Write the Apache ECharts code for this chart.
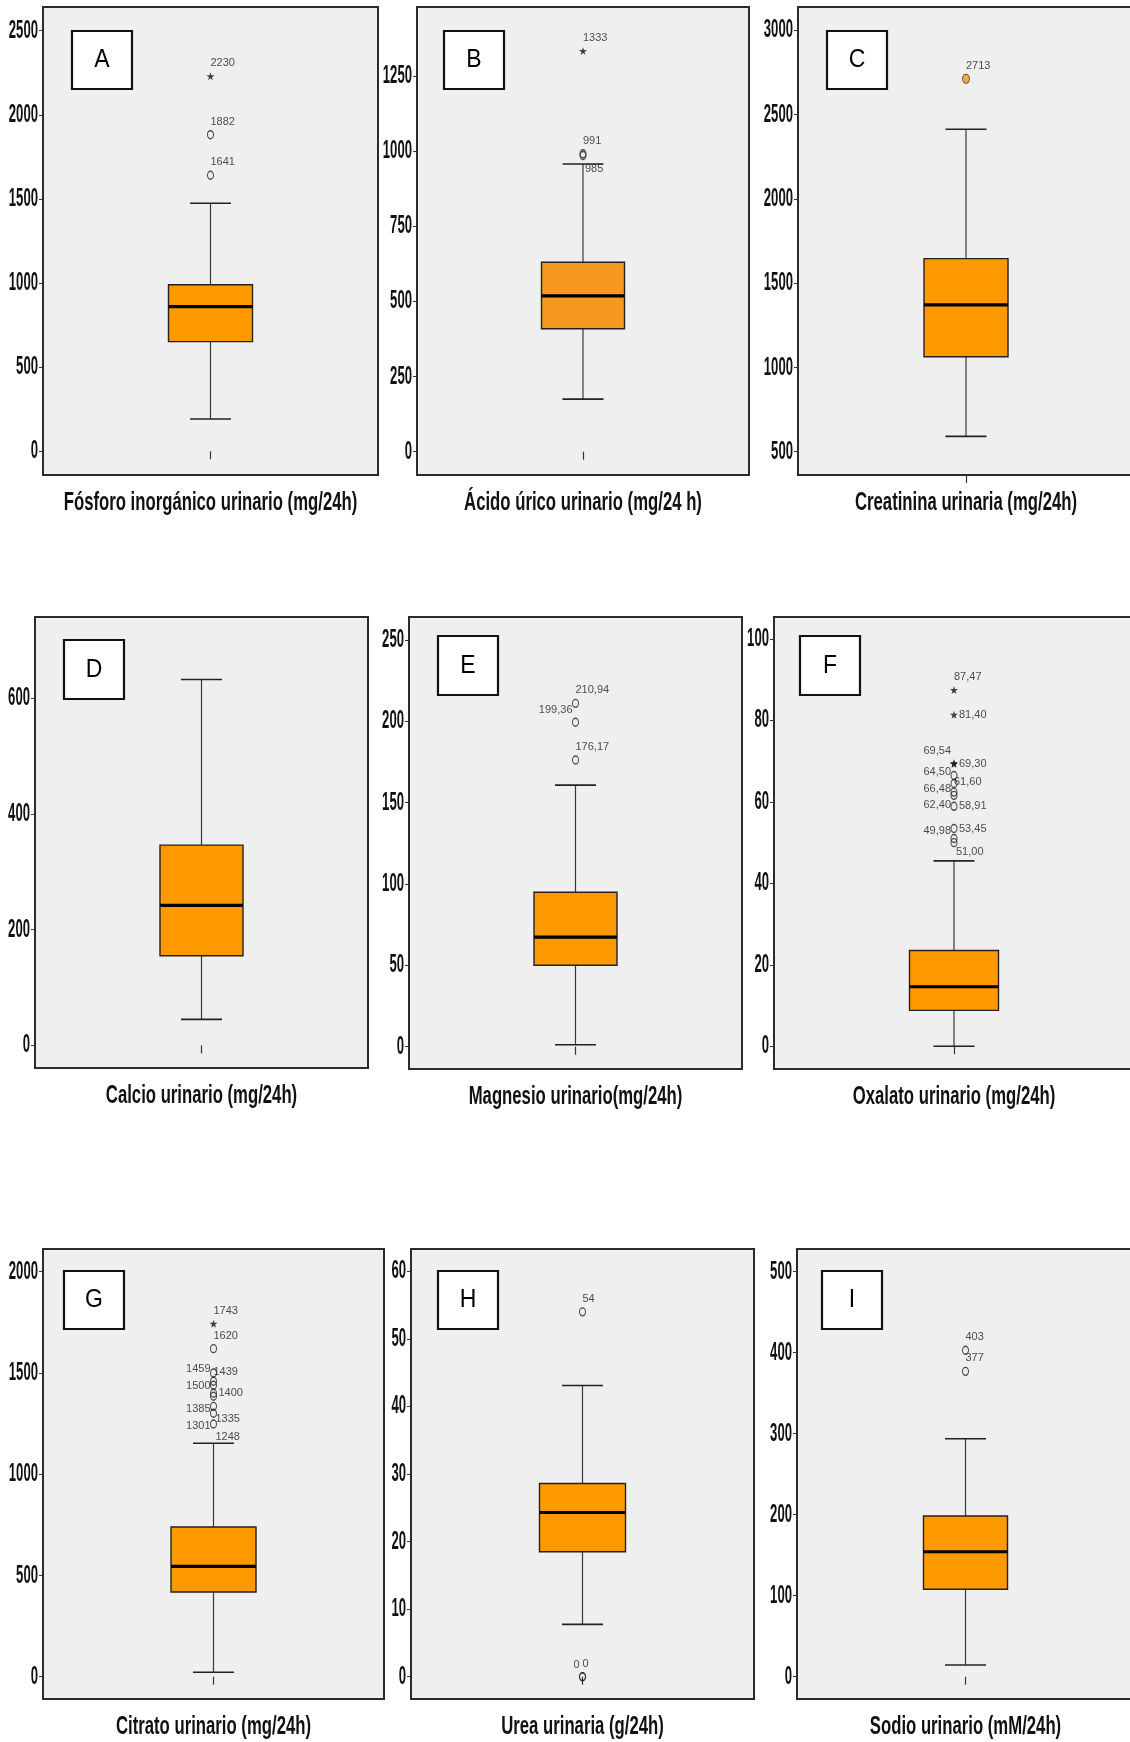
<!DOCTYPE html>
<html>
<head>
<meta charset="utf-8">
<script src="https://cdn.jsdelivr.net/npm/echarts@6/dist/echarts.min.js"></script>
<style>
  html, body { margin: 0; padding: 0; background: #ffffff; }
  #chart { width: 1130px; height: 1742px; }
</style>
</head>
<body>
<div id="chart"></div>
<script>
// ---- variable names (one box plot each) ----
const titles = [
  'Fósforo inorgánico urinario (mg/24h)',
  'Ácido úrico urinario (mg/24 h)',
  'Creatinina urinaria (mg/24h)',
  'Calcio urinario (mg/24h)',
  'Magnesio urinario(mg/24h)',
  'Oxalato urinario (mg/24h)',
  'Citrato urinario (mg/24h)',
  'Urea urinaria (g/24h)',
  'Sodio urinario (mM/24h)'
];
const letters = ['A', 'B', 'C', 'D', 'E', 'F', 'G', 'H', 'I'];

// ---- five-number summaries: [lower whisker, Q1, median, Q3, upper whisker] ----
const fosforoStats    = [192, 652, 860, 990, 1474];
const acidoUricoStats = [175, 409, 518, 630, 957];
const creatininaStats = [591, 1064, 1371, 1646, 2414];
const calcioStats     = [45, 155, 242, 346, 632];
const magnesioStats   = [1.2, 50, 67.3, 94.9, 160.7];
const oxalatoStats    = [0, 8.8, 14.6, 23.5, 45.5];
const citratoStats    = [22, 418, 545, 739, 1153];
const ureaStats       = [7.75, 18.5, 24.3, 28.6, 43.1];
const sodioStats      = [14.4, 107.9, 154.3, 198.4, 293.8];

// ---- outliers (circles) and extreme values (stars) ----
const fosforoOutliers    = [1641, 1882];
const fosforoExtremes    = [2230];
const acidoUricoOutliers = [985, 991];
const acidoUricoExtremes = [1333];
const creatininaOutliers = [2713];
const creatininaExtremes = [];
const calcioOutliers     = [];
const calcioExtremes     = [];
const magnesioOutliers   = [176.17, 199.36, 210.94];
const magnesioExtremes   = [];
const oxalatoOutliers    = [49.98, 51.00, 53.45, 58.91, 61.60, 62.40, 64.50, 66.48];
const oxalatoExtremes    = [69.30, 69.54, 81.40, 87.47];
const citratoOutliers    = [1248, 1301, 1335, 1385, 1400, 1439, 1459, 1500, 1620];
const citratoExtremes    = [1743];
const ureaOutliers       = [0, 0, 54];
const ureaExtremes       = [];
const sodioOutliers      = [377, 403];
const sodioExtremes      = [];

// decimals shown in the outlier labels of each panel
const labelDecimals = [0, 0, 0, 0, 2, 2, 0, 0, 0];

// ---- y-axis tick values ----
const fosforoTicks    = [0, 500, 1000, 1500, 2000, 2500];
const acidoUricoTicks = [0, 250, 500, 750, 1000, 1250];
const creatininaTicks = [500, 1000, 1500, 2000, 2500, 3000];
const calcioTicks     = [0, 200, 400, 600];
const magnesioTicks   = [0, 50, 100, 150, 200, 250];
const oxalatoTicks    = [0, 20, 40, 60, 80, 100];
const citratoTicks    = [0, 500, 1000, 1500, 2000];
const ureaTicks       = [0, 10, 20, 30, 40, 50, 60];
const sodioTicks      = [0, 100, 200, 300, 400, 500];

// ---- y-axis extents ----
const fosforoRange    = [-141, 2641];
const acidoUricoRange = [-77.5, 1479];
const creatininaRange = [362, 3139];
const calcioRange     = [-39, 740];
const magnesioRange   = [-13.7, 264];
const oxalatoRange    = [-5.6, 105.4];
const citratoRange    = [-110, 2112];
const ureaRange       = [-3.3, 63.3];
const sodioRange      = [-27.5, 528];

// ---- layout: plot frames [left, top, width, height] ----
const frames = [
  [43, 7, 335, 468], [417, 7, 332, 468], [798, 7, 336, 468],
  [35, 617, 333, 451], [409, 617, 333, 452], [774, 617, 360, 452],
  [43, 1249, 341, 450], [411, 1249, 343, 450], [797, 1249, 337, 450]
];
// panel-letter boxes [left, top, width, height]
const letterBoxes = [
  [72, 31, 60, 58], [444, 31, 60, 58], [827, 31, 60, 58],
  [64, 640, 60, 59], [438, 636, 60, 59], [800, 636, 60, 59],
  [64, 1271, 60, 58], [438, 1271, 60, 58], [822, 1271, 60, 58]
];
const boxWidths = [84, 83, 84, 83, 83, 89, 85, 86, 84];
const boxFills = ['#ff9900', '#f7991f', '#ff9900', '#ff9900', '#ff9900', '#ff9900', '#ff9900', '#ff9900', '#ff9900'];

// label placement next to each outlier / extreme (ur, ul, r, lr, ll)
const outlierSides = [
  ['ur', 'ur'], ['lr', 'ur'], ['ur'], [], ['ur', 'ul', 'ur'],
  ['ul', 'lr', 'r', 'r', 'ur', 'll', 'ul', 'll'],
  ['lr', 'll', 'lr', 'll', 'r', 'ur', 'ul', 'll', 'ur'],
  ['ul', 'ur', 'ur'], ['ur', 'ur']
];
const extremeSides = [['ur'], ['ur'], [], [], [], ['r', 'ul', 'r', 'ur'], ['ur'], [], []];

const statsList = [fosforoStats, acidoUricoStats, creatininaStats, calcioStats, magnesioStats, oxalatoStats, citratoStats, ureaStats, sodioStats];
const outlierList = [fosforoOutliers, acidoUricoOutliers, creatininaOutliers, calcioOutliers, magnesioOutliers, oxalatoOutliers, citratoOutliers, ureaOutliers, sodioOutliers];
const extremeList = [fosforoExtremes, acidoUricoExtremes, creatininaExtremes, calcioExtremes, magnesioExtremes, oxalatoExtremes, citratoExtremes, ureaExtremes, sodioExtremes];
const tickList = [fosforoTicks, acidoUricoTicks, creatininaTicks, calcioTicks, magnesioTicks, oxalatoTicks, citratoTicks, ureaTicks, sodioTicks];
const rangeList = [fosforoRange, acidoUricoRange, creatininaRange, calcioRange, magnesioRange, oxalatoRange, citratoRange, ureaRange, sodioRange];

const SANS = '"Liberation Sans", Arial, sans-serif';
const STAR = 'path://M50,0 L61,35 L98,35 L68,57 L79,91 L50,70 L21,91 L32,57 L2,35 L39,35 Z';

const sideStyle = {
  ur: { align: 'left',  offset: [0, -13] },
  ul: { align: 'right', offset: [-3, -12] },
  r:  { align: 'left',  offset: [5, 0] },
  lr: { align: 'left',  offset: [2, 13] },
  ll: { align: 'right', offset: [-3, 13] }
};

function fmt(v, d) {
  return d > 0 ? v.toFixed(d).replace('.', ',') : String(Math.round(v));
}

function pointItems(values, sides, decimals) {
  return values.map((v, k) => {
    const s = sideStyle[sides[k] || 'ur'];
    return {
      value: [0, v],
      label: {
        show: true,
        position: 'inside',
        align: s.align,
        verticalAlign: 'middle',
        offset: s.offset,
        formatter: fmt(v, decimals),
        fontFamily: SANS,
        fontSize: 11,
        color: '#222'
      }
    };
  });
}

const grid = [], xAxis = [], yAxis = [], series = [];

statsList.forEach((stats, i) => {
  const f = frames[i];
  grid.push({
    left: f[0], top: f[1], width: f[2], height: f[3],
    show: true, backgroundColor: '#efefef', borderColor: '#2b2b2b', borderWidth: 2,
    containLabel: false, outerBoundsMode: 'none'
  });
  xAxis.push({
    type: 'category', gridIndex: i, data: [titles[i]],
    axisLine: { show: false },
    axisTick: { show: true, alignWithLabel: true, length: 8, lineStyle: { color: '#333', width: 1.2 } },
    axisLabel: { show: false },
    splitLine: { show: false }
  });
  yAxis.push({
    type: 'value', gridIndex: i, min: rangeList[i][0], max: rangeList[i][1],
    axisLine: { show: false },
    splitLine: { show: false },
    axisTick: { show: true, length: 4, customValues: tickList[i], lineStyle: { color: '#333', width: 1 } },
    axisLabel: { show: false }
  });

  const bw = boxWidths[i];
  const fill = boxFills[i];
  series.push({
    type: 'custom', xAxisIndex: i, yAxisIndex: i,
    data: [[0].concat(stats)],
    encode: { x: 0, y: [1, 2, 3, 4, 5] },
    renderItem: function (params, api) {
      const x = api.coord([0, api.value(3)])[0];
      const yLo = api.coord([0, api.value(1)])[1];
      const yQ1 = api.coord([0, api.value(2)])[1];
      const yMed = api.coord([0, api.value(3)])[1];
      const yQ3 = api.coord([0, api.value(4)])[1];
      const yHi = api.coord([0, api.value(5)])[1];
      const cap = 20.5;
      const line = { stroke: '#3a3a3a', lineWidth: 1.2 };
      return {
        type: 'group',
        children: [
          { type: 'line', shape: { x1: x, y1: yHi, x2: x, y2: yQ3 }, style: line },
          { type: 'line', shape: { x1: x, y1: yQ1, x2: x, y2: yLo }, style: line },
          { type: 'line', shape: { x1: x - cap, y1: yHi, x2: x + cap, y2: yHi }, style: { stroke: '#222', lineWidth: 1.6 } },
          { type: 'line', shape: { x1: x - cap, y1: yLo, x2: x + cap, y2: yLo }, style: { stroke: '#222', lineWidth: 1.6 } },
          { type: 'rect', shape: { x: x - bw / 2, y: yQ3, width: bw, height: yQ1 - yQ3 },
            style: { fill: fill, stroke: '#222', lineWidth: 1.4 } },
          { type: 'line', shape: { x1: x - bw / 2, y1: yMed, x2: x + bw / 2, y2: yMed },
            style: { stroke: '#000', lineWidth: 3.2 } }
        ]
      };
    },
    z: 2
  });

  if (outlierList[i].length) {
    const filled = i === 2;
    series.push({
      type: 'scatter', xAxisIndex: i, yAxisIndex: i,
      symbol: 'circle',
      symbolSize: filled ? [7, 9] : [6, 8],
      itemStyle: filled
        ? { color: '#f7941d', borderColor: '#333', borderWidth: 1 }
        : { color: 'rgba(0,0,0,0)', borderColor: '#222', borderWidth: 1.2 },
      data: pointItems(outlierList[i], outlierSides[i], labelDecimals[i]),
      z: 3
    });
  }
  if (extremeList[i].length) {
    series.push({
      type: 'scatter', xAxisIndex: i, yAxisIndex: i,
      symbol: STAR, symbolSize: [8, 8],
      itemStyle: { color: '#111' },
      data: pointItems(extremeList[i], extremeSides[i], labelDecimals[i]),
      z: 3
    });
  }
});

const chart = echarts.init(document.getElementById('chart'), null, { renderer: 'canvas' });
chart.setOption({
  animation: false,
  backgroundColor: '#ffffff',
  grid: grid,
  xAxis: xAxis,
  yAxis: yAxis,
  series: series
});

// Tick labels, axis titles and panel letters: tall condensed lettering,
// placed with the axes' own value-to-pixel conversion.
const graphic = [];
statsList.forEach((stats, i) => {
  const f = frames[i];
  tickList[i].forEach(t => {
    const y = chart.convertToPixel({ yAxisIndex: i }, t);
    graphic.push({
      type: 'text', x: f[0] - 5, y: y, scaleX: 0.82, scaleY: 1.6,
      style: { text: String(t), font: 'bold 16px ' + SANS, fill: '#111',
               align: 'right', verticalAlign: 'middle' },
      z: 5
    });
  });
  const cx = chart.convertToPixel({ xAxisIndex: i }, titles[i]);
  graphic.push({
    type: 'text', x: cx, y: f[1] + f[3] + 28, scaleX: 0.76, scaleY: 1.2,
    style: { text: titles[i], font: 'bold 22px ' + SANS, fill: '#111',
             align: 'center', verticalAlign: 'middle' },
    z: 5
  });
  const b = letterBoxes[i];
  graphic.push({
    type: 'rect', shape: { x: b[0], y: b[1], width: b[2], height: b[3] },
    style: { fill: '#ffffff', stroke: '#111', lineWidth: 2.2 }, z: 10
  });
  graphic.push({
    type: 'text', x: b[0] + b[2] / 2, y: b[1] + b[3] / 2, scaleY: 1.15,
    style: { text: letters[i], font: '23px ' + SANS, fill: '#000',
             align: 'center', verticalAlign: 'middle' }, z: 11
  });
});
chart.setOption({ graphic: graphic });
</script>
</body>
</html>
